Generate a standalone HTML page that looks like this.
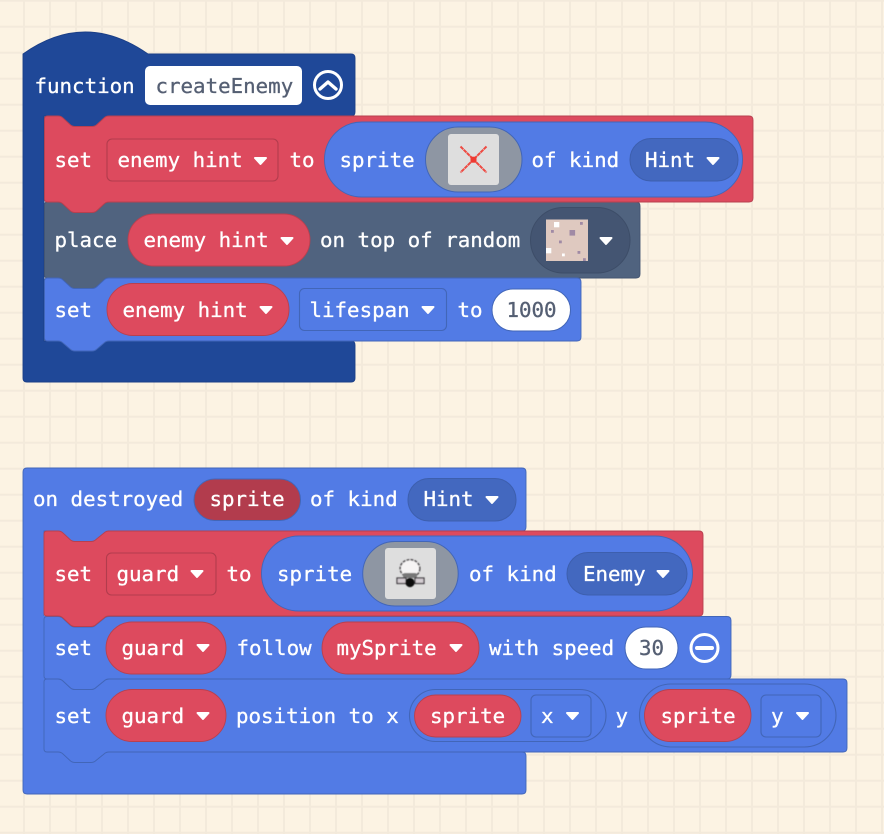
<!DOCTYPE html>
<html><head><meta charset="utf-8"><style>
html,body{margin:0;padding:0;background:#fcf3e3}
svg{display:block}
text{font-family:"DejaVu Sans Mono","Liberation Mono",monospace;font-size:20.8px;fill:#fff;stroke:#fff;stroke-width:.3}
text.d{fill:#555f73;stroke:#555f73}
.t{fill:#fff;stroke:#fff;stroke-width:2;stroke-linejoin:round}
.r{fill:#dd4a5e;stroke:#b8404f;stroke-width:.9}
.b{fill:#527be5;stroke:#4266b8;stroke-width:.9}
.s{fill:#50637f;stroke:#445572;stroke-width:.9}
.n{fill:#1f4898;stroke:#1b3f87;stroke-width:.9}
.hb{fill:#4368bf;stroke:#3d5fae;stroke-width:1}
</style></head><body>
<svg width="884" height="834" viewBox="0 0 884 834" xmlns="http://www.w3.org/2000/svg">
<defs><pattern id="g" width="26" height="26" patternUnits="userSpaceOnUse" x="-15" y="-12.3"><path d="M0 13H26M13 0V26" stroke="#f3eadb" stroke-width="2" fill="none"/></pattern>
<filter id="soft" x="-10%" y="-10%" width="120%" height="120%"><feGaussianBlur stdDeviation="0.4"/></filter></defs>
<rect width="884" height="834" fill="#fcf3e3"/>
<rect width="884" height="834" fill="url(#g)"/>

<!-- function block -->
<path class="n" d="M23 54Q85 10 148 54H351Q355 54 355 58V112Q355 116 351 116H44V341H351Q355 341 355 345V378Q355 382 351 382H27Q23 382 23 378Z"/>
<rect x="58" y="115" width="50" height="13" fill="#1f4898"/>
<text x="34.500" y="93">function</text>
<rect x="145" y="66" width="157" height="39" rx="5" fill="#fff"/>
<text class="d" x="155.500" y="93">createEnemy</text>
<circle cx="328" cy="85" r="13.500" fill="none" stroke="#fff" stroke-width="3"/>
<path d="M320 89l8-7 8 7" fill="none" stroke="#fff" stroke-width="3.400" stroke-linecap="round" stroke-linejoin="round"/>

<!-- slate -->
<path class="s" d="M47.500 202H58Q61 202 63 204L70 210.500Q72 212.500 75 212.500H92Q95 212.500 97 210.500L104 204Q106 202 109 202H636Q640 202 640 206V274Q640 278 636 278H109Q106 278 104 280L97 286.500Q95 288.500 92 288.500H75Q72 288.500 70 286.500L63 280Q61 278 58 278H47.500Q44.500 278 44.500 275V205Q44.500 202 47.500 202Z"/>
<!-- blue set -->
<path class="b" d="M47.500 278H58Q61 278 63 280L70 286.500Q72 288.500 75 288.500H92Q95 288.500 97 286.500L104 280Q106 278 109 278H577Q581 278 581 282V337Q581 341 577 341H109Q106 341 104 343L97 349Q95 351 92 351H75Q72 351 70 349L63 343Q61 341 58 341H47.500Q44.500 341 44.500 338V281Q44.500 278 47.500 278Z"/>
<!-- red set -->
<path class="r" d="M47.500 116H58Q61 116 63 118L70 124.500Q72 126.500 75 126.500H92Q95 126.500 97 124.500L104 118Q106 116 109 116H749Q753 116 753 120V198Q753 202 749 202H109Q106 202 104 204L97 210.500Q95 212.500 92 212.500H75Q72 212.500 70 210.500L63 204Q61 202 58 202H47.500Q44.500 202 44.500 199V119Q44.500 116 47.500 116Z"/>

<text x="54.500" y="167">set</text>
<rect x="107" y="139" width="171" height="42" rx="5" fill="none" stroke="#b23c4d" stroke-width="1.100"/>
<text x="117.500" y="167">enemy hint</text>
<path class="t" d="M255 158h11l-5.500 6z"/>
<text x="289.500" y="167">to</text>
<rect class="b" x="324.500" y="122" width="418" height="75" rx="37.500"/>
<text x="339.500" y="167">sprite</text>
<rect x="425.500" y="127" width="96.500" height="65" rx="32.500" fill="#8e96a3" stroke="#4266b8" stroke-width="1"/>
<rect x="448" y="134" width="51" height="51" rx="3" fill="#dedede"/>
<path d="M460.500 146.500L486.500 172.500M486.500 146.500L460.500 172.500" stroke="#ee4a42" stroke-width="2" stroke-dasharray="4 .5"/>
<rect x="470.500" y="156.700" width="6" height="6" fill="#ee3a32"/>
<text x="531.500" y="167">of kind</text>
<rect class="hb" x="630" y="138.500" width="108" height="42.500" rx="21"/>
<text x="645" y="167">Hint</text>
<path class="t" d="M707.500 158h11l-5.500 6z"/>

<text x="54.500" y="247">place</text>
<rect class="r" x="128" y="214" width="182" height="52" rx="26"/>
<text x="143.500" y="247">enemy hint</text>
<path class="t" d="M281.500 238h11l-5.500 6z"/>
<text x="320" y="247">on top of random</text>
<rect x="530.500" y="207.500" width="99.500" height="65.500" rx="32.700" fill="#445572" stroke="#3d4d68" stroke-width="1"/>
<rect x="546" y="219.500" width="42" height="41.500" fill="#dfc9c0"/>
<g fill="#fff"><rect x="554" y="222" width="5.300" height="5.300"/><rect x="546" y="248" width="5.300" height="5.300"/><rect x="562" y="253.500" width="2.800" height="2.800"/></g>
<g fill="#a08aa5"><rect x="569.500" y="230" width="5.600" height="5.600"/><rect x="580" y="222" width="2.800" height="2.800"/><rect x="551" y="230" width="2.800" height="2.800"/><rect x="559" y="240.500" width="2.800" height="2.800"/><rect x="577.500" y="251" width="2.800" height="2.800"/><rect x="583" y="258.200" width="2.800" height="2.800"/></g>
<path class="t" d="M600.500 238h11l-5.500 6z"/>

<text x="54.500" y="317">set</text>
<rect class="r" x="107" y="283.500" width="182" height="52" rx="26"/>
<text x="122.500" y="317">enemy hint</text>
<path class="t" d="M260.500 307h11l-5.500 6z"/>
<rect x="299.500" y="288.500" width="147" height="42" rx="5" fill="none" stroke="#4266b8" stroke-width="1.100"/>
<text x="309.500" y="317">lifespan</text>
<path class="t" d="M422.500 307h11l-5.500 6z"/>
<text x="457.500" y="317">to</text>
<rect x="492" y="289" width="78.500" height="42" rx="21" fill="#fff" stroke="#4266b8" stroke-width="1"/>
<text class="d" x="506.500" y="317">1000</text>

<!-- event block -->
<path class="b" d="M27 468H522Q526 468 526 472V527Q526 531 522 531H44V752H522Q526 752 526 756V790Q526 794 522 794H27Q23 794 23 790V472Q23 468 27 468Z"/>
<rect x="58" y="530" width="50" height="13" fill="#527be5"/>
<rect x="43" y="616" width="4" height="140" fill="#527be5"/>
<text x="33" y="506">on destroyed</text>
<rect x="194" y="479" width="106.500" height="41.500" rx="20.700" fill="#b23c4d" stroke="#4266b8" stroke-width="1"/>
<text x="209.500" y="506">sprite</text>
<text x="310" y="506">of kind</text>
<rect class="hb" x="408" y="478.500" width="108" height="42.500" rx="21"/>
<text x="423.500" y="506">Hint</text>
<path class="t" d="M486.500 497h11l-5.500 6z"/>

<!-- row 3 -->
<path class="b" d="M47 679H58Q61 679 63 681L70 687.500Q72 689.500 75 689.500H91Q94 689.500 96 687.500L104 681Q106 679 109 679H843Q847 679 847 683V748Q847 752 843 752H109Q106 752 104 754L96 760.500Q94 762.500 91 762.500H75Q72 762.500 70 760.500L63 754Q61 752 58 752H47Q44 752 44 749V682Q44 679 47 679Z"/>
<!-- row 2 -->
<path class="b" d="M47 616.500H58Q61 616.500 63 618.500L70 625Q72 627 75 627H91Q94 627 96 625L104 618.500Q106 616.500 109 616.500H727Q731 616.500 731 620.500V675Q731 679 727 679H109Q106 679 104 681L96 687.500Q94 689.500 91 689.500H75Q72 689.500 70 687.500L63 681Q61 679 58 679H47Q44 679 44 676V619.500Q44 616.500 47 616.500Z"/>
<!-- row 1 -->
<path class="r" d="M47 531H58Q61 531 63 533L70 539.500Q72 541.500 75 541.500H91Q94 541.500 96 539.500L104 533Q106 531 109 531H699Q703 531 703 535V612Q703 616 699 616H109Q106 616 104 618L96 624.500Q94 626.500 91 626.500H75Q72 626.500 70 624.500L63 618Q61 616 58 616H47Q44 616 44 613V534Q44 531 47 531Z"/>

<text x="54.500" y="581">set</text>
<rect x="106.500" y="553" width="109.500" height="42" rx="5" fill="none" stroke="#b23c4d" stroke-width="1.100"/>
<text x="116.500" y="581">guard</text>
<path class="t" d="M191.500 571h11l-5.500 6z"/>
<text x="226.500" y="581">to</text>
<rect class="b" x="261.500" y="536" width="431" height="75" rx="37.500"/>
<text x="277" y="581">sprite</text>
<rect x="362.700" y="541.500" width="95.500" height="64.500" rx="32.200" fill="#8e96a3" stroke="#4266b8" stroke-width="1"/>
<rect x="385" y="548" width="51" height="51" rx="3" fill="#dedede"/>
<g filter="url(#soft)">
<ellipse cx="410" cy="568.500" rx="9.800" ry="8.800" fill="#f6f4f4" stroke="#4a464a" stroke-width="1.500" stroke-dasharray="3 1"/>
<rect x="403" y="573" width="14" height="5" rx="2" fill="#777"/>
<rect x="397" y="578" width="9" height="5.500" fill="#d4ced2" stroke="#3a363a" stroke-width="1.200"/>
<rect x="415" y="578" width="9" height="5.500" fill="#d4ced2" stroke="#3a363a" stroke-width="1.200"/>
<circle cx="410" cy="582.500" r="4.600" fill="#111"/>
</g>
<text x="469" y="581">of kind</text>
<rect class="hb" x="567" y="552.500" width="120" height="42.500" rx="21"/>
<text x="583" y="581">Enemy</text>
<path class="t" d="M657.500 571h11l-5.500 6z"/>

<text x="54.500" y="655">set</text>
<rect class="r" x="106" y="622" width="120" height="52" rx="26"/>
<text x="121.500" y="655">guard</text>
<path class="t" d="M197.500 645h11l-5.500 6z"/>
<text x="236.500" y="655">follow</text>
<rect class="r" x="322" y="622" width="157" height="52" rx="26"/>
<text x="336.500" y="655">mySprite</text>
<path class="t" d="M450.500 645h11l-5.500 6z"/>
<text x="489" y="655">with speed</text>
<rect x="625" y="627" width="53" height="42" rx="21" fill="#fff" stroke="#4266b8" stroke-width="1"/>
<text class="d" x="639" y="655">30</text>
<circle cx="704.500" cy="648" r="13.500" fill="none" stroke="#fff" stroke-width="3"/>
<path d="M697 648h15" stroke="#fff" stroke-width="4" stroke-linecap="round"/>

<text x="54.500" y="723">set</text>
<rect class="r" x="106" y="689.500" width="120" height="52" rx="26"/>
<text x="121.500" y="723">guard</text>
<path class="t" d="M197.500 713h11l-5.500 6z"/>
<text x="236" y="723">position to x</text>
<rect x="409.500" y="689.500" width="196.500" height="52" rx="26" fill="none" stroke="#4266b8" stroke-width="1.100"/>
<rect class="r" x="414.500" y="695" width="106.500" height="42" rx="21"/>
<text x="430" y="723">sprite</text>
<rect x="531" y="695" width="60" height="42" rx="5" fill="none" stroke="#4266b8" stroke-width="1.100"/>
<text x="541" y="723">x</text>
<path class="t" d="M567 713h11l-5.500 6z"/>
<text x="615.500" y="723">y</text>
<rect x="639.500" y="684" width="196.500" height="63" rx="31.500" fill="none" stroke="#4266b8" stroke-width="1.100"/>
<rect class="r" x="644.500" y="689.500" width="106.500" height="52" rx="26"/>
<text x="660.500" y="723">sprite</text>
<rect x="761" y="695" width="60" height="42" rx="5" fill="none" stroke="#4266b8" stroke-width="1.100"/>
<text x="771" y="723">y</text>
<path class="t" d="M797 713h11l-5.500 6z"/>
</svg>
</body></html>
